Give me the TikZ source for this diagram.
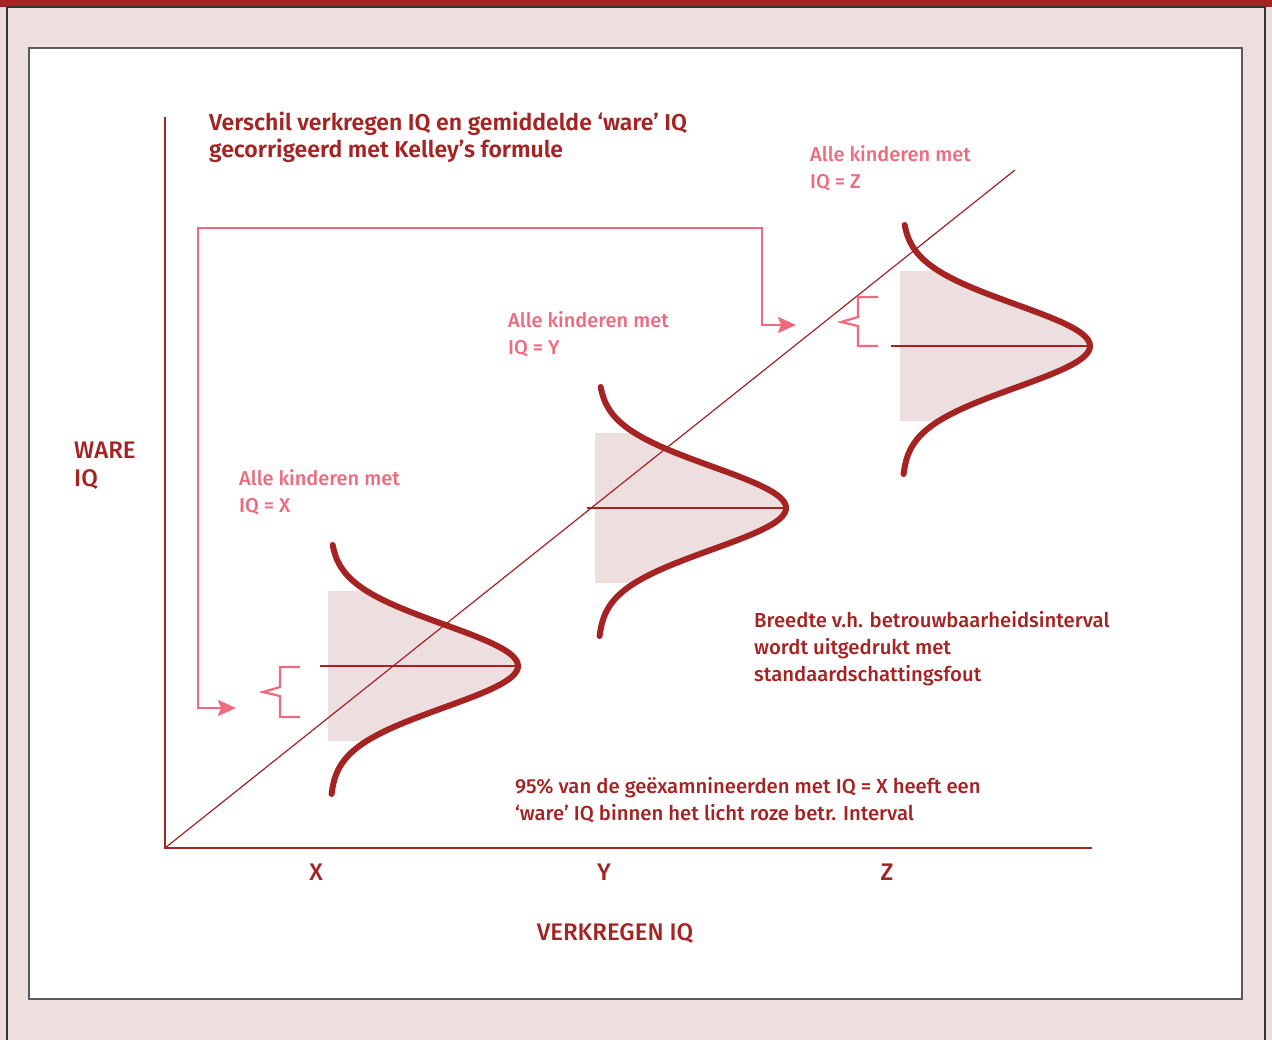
\documentclass[tikz,border=0pt]{standalone}
\usepackage{fontspec}
\setmainfont{Fira Sans Medium}
\newfontfamily\semifont{Fira Sans SemiBold}
\usepackage{tikz}
\usetikzlibrary{arrows.meta}
\definecolor{darkred}{RGB}{165,35,34}
\definecolor{rosepink}{RGB}{238,106,124}
\definecolor{lightrose}{RGB}{237,223,223}
\definecolor{framegray}{RGB}{90,90,90}
\tikzset{axis/.style={darkred, line width=1.2pt}}
\tikzset{bell/.style={darkred, line width=6pt, line cap=round}}
\tikzset{meanline/.style={darkred, line width=1.2pt}}
\tikzset{band/.style={fill=lightrose}}
\tikzset{pinkline/.style={rosepink, line width=2.2pt}}
\tikzset{pinkarrow/.style={pinkline, {Stealth[length=18pt,width=16pt,inset=3pt]}-{Stealth[length=18pt,width=16pt,inset=3pt]}}}
\tikzset{txt/.style={darkred, font=\fontsize{20.3}{27}\selectfont, align=left, inner sep=0pt}}
\tikzset{titletxt/.style={darkred, font=\semifont\fontsize{23}{27}\selectfont, align=left, inner sep=0pt}}
\tikzset{captxt/.style={darkred, font=\fontsize{24}{28}\selectfont, align=left, inner sep=0pt}}
\tikzset{pinktxt/.style={rosepink, font=\fontsize{20}{27}\selectfont, align=left, inner sep=0pt}}

\begin{document}
\begin{tikzpicture}[x=1pt,y=-1pt]
\useasboundingbox (0,0) rectangle (1272,1040);
% frame
\fill[lightrose] (0,0) rectangle (1272,1040);
\fill[darkred] (0,0) rectangle (1272,7);
\draw[black!80, line width=1.5pt] (7,1040) -- (7,7) -- (1265,7) -- (1265,1040);
\draw[framegray, line width=1.5pt, fill=white] (29,48) rectangle (1242,999);

\coordinate (origin) at (165,848);
\coordinate (ytop) at (165,117);
\coordinate (xend) at (1092,848);
\coordinate (diagend) at (1015,170);

% shaded intervals
\fill[band] (328,591) -- plot[domain=-75:75,samples=40,smooth] ({330+188*exp(-0.5*(\x/41.5)^2)},{666+\x}) -- (328,741) -- cycle;
\fill[band] (595,433) -- plot[domain=-75:75,samples=40,smooth] ({598+188*exp(-0.5*(\x/41.5)^2)},{508+\x}) -- (595,583) -- cycle;
\fill[band] (900,271) -- plot[domain=-75:75,samples=40,smooth] ({902+188*exp(-0.5*(\x/41.5)^2)},{346+\x}) -- (900,421) -- cycle;

% axes
\draw[axis] (ytop) -- (origin) -- (xend);
\draw[axis] (origin) -- (diagend);

% means
\coordinate (xpeak) at (518,666);
\coordinate (ypeak) at (786,508);
\coordinate (zpeak) at (1090,346);
\draw[meanline] (320,666) -- (xpeak);
\draw[meanline] (587,508) -- (ypeak);
\draw[meanline] (891,346) -- (zpeak);

% bells
\draw[bell] plot[domain=-121:128,samples=90,smooth] ({330+188*exp(-0.5*(\x/41.5)^2)},{666+\x});
\draw[bell] plot[domain=-121:128,samples=90,smooth] ({598+188*exp(-0.5*(\x/41.5)^2)},{508+\x});
\draw[bell] plot[domain=-121:128,samples=90,smooth] ({902+188*exp(-0.5*(\x/41.5)^2)},{346+\x});

% braces
\draw[pinkline] (300,667) -- (280,667) -- (280,687) -- (263,692) -- (280,696) -- (280,717) -- (300,717);
\draw[pinkline] (878,297) -- (858,297) -- (858,317) -- (841,322) -- (858,326) -- (858,346) -- (878,346);

% pink connector
\coordinate (xtip) at (236,708);
\coordinate (ztip) at (796,325);
\draw[pinkarrow] (xtip) -- (198,708) -- (198,228) -- (762,228) -- (762,325) -- (ztip);

% texts (base = last line)
\node[titletxt, anchor=base west] (title) at (209,158) {Verschil verkregen IQ en gemiddelde ‘ware’ IQ\\gecorrigeerd met Kelley’s formule};
\node[captxt, anchor=base west] (ware) at (74,486) {WARE\\IQ};
\node[pinktxt, anchor=base west] (groupx) at (239,512) {Alle kinderen met\\IQ = X};
\node[pinktxt, anchor=base west] (groupy) at (508,355) {Alle kinderen met\\IQ = Y};
\node[pinktxt, anchor=base west] (groupz) at (810,189) {Alle kinderen met\\IQ = Z};
\node[txt, anchor=base west] (breedte) at (754,681) {Breedte v.h. betrouwbaarheidsinterval\\wordt uitgedrukt met\\standaardschattingsfout};
\node[txt, anchor=base west] (procent) at (515,820) {95\% van de geëxamnineerden met IQ = X heeft een\\‘ware’ IQ binnen het licht roze betr. Interval};
\node[captxt] (labx) at (316,872) {X};
\node[captxt] (laby) at (604,872) {Y};
\node[captxt] (labz) at (887,872) {Z};
\node[captxt] (verkregen) at (615,934) {VERKREGEN IQ};
\end{tikzpicture}
\end{document}
